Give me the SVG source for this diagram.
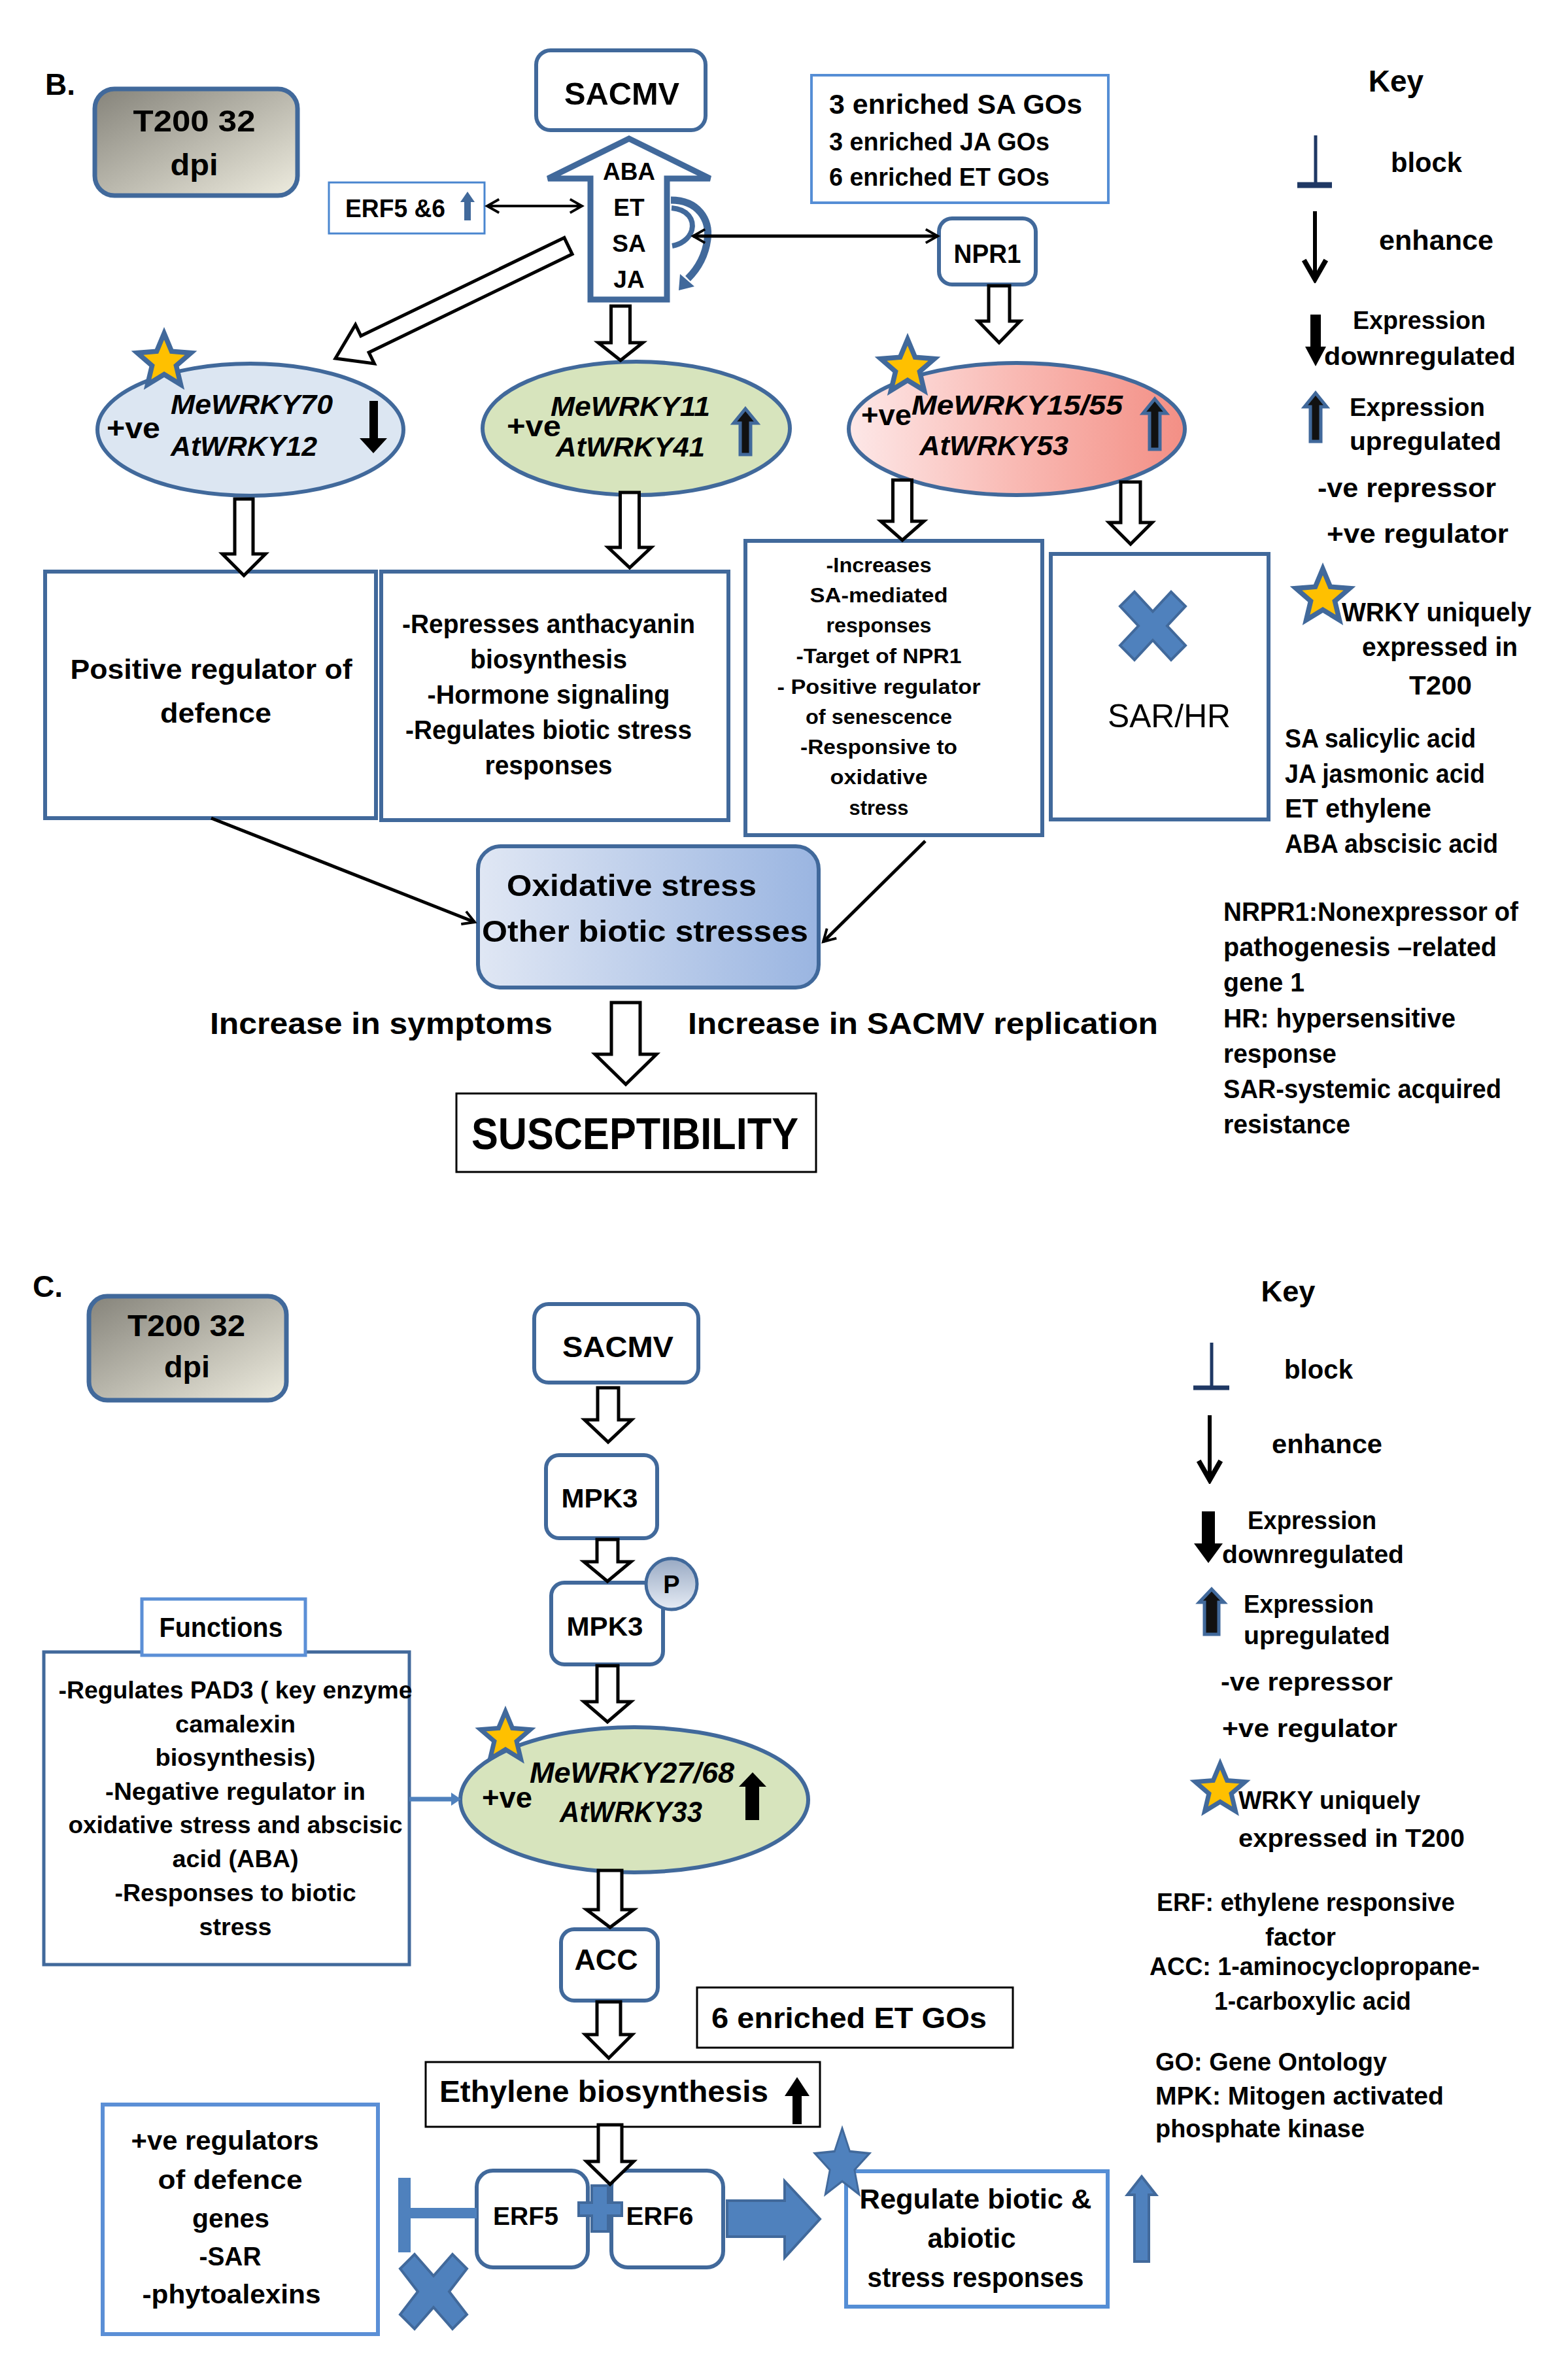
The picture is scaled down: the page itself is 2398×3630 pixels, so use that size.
<svg xmlns="http://www.w3.org/2000/svg" width="2398" height="3630" viewBox="0 0 2398 3630">
<defs>
<style>
.t{font-family:'Liberation Sans',Arial,Helvetica,sans-serif;font-weight:bold;fill:#000}
.r{font-weight:normal}
.i{font-style:italic}
.m{text-anchor:middle}
.n{stroke:#41699b;stroke-width:6;fill:#fff}
.lb{stroke:#5b8fd6;stroke-width:4;fill:#fff}
.bk{stroke:#000;stroke-width:3;fill:#fff}
.ha{fill:#fff;stroke:#000;stroke-width:5;stroke-linejoin:miter}
.ln{stroke:#000;stroke-width:5;fill:none}
.bf{fill:#4f81bd;stroke:#41699b;stroke-width:4}
.up{fill:#111;stroke:#41699b;stroke-width:5}
.bl{fill:#000}
.gs{fill:#ffc000;stroke:#41699b;stroke-width:7;stroke-linejoin:miter}
</style>
<linearGradient id="gGray" x1="0" y1="0" x2="1" y2="1"><stop offset="0" stop-color="#85837a"/><stop offset="1" stop-color="#eeecdf"/></linearGradient>
<linearGradient id="gPink" x1="0" y1="0" x2="1" y2="0"><stop offset="0" stop-color="#fde8e8"/><stop offset="0.5" stop-color="#f9b9b3"/><stop offset="1" stop-color="#f38f85"/></linearGradient>
<linearGradient id="gBlue" x1="0" y1="0" x2="1" y2="0"><stop offset="0" stop-color="#e0e7f4"/><stop offset="1" stop-color="#9ab5e1"/></linearGradient>
<linearGradient id="gP" x1="0" y1="0" x2="0" y2="1"><stop offset="0" stop-color="#98a9c3"/><stop offset="1" stop-color="#e6ecf5"/></linearGradient>
<path id="star" d="M0,-40 L10.6,-14.6 L38,-12.4 L17.1,5.6 L23.5,32.4 L0,18 L-23.5,32.4 L-17.1,5.6 L-38,-12.4 L-10.6,-14.6 Z"/>
<marker id="ch" viewBox="0 0 20 20" refX="17" refY="10" markerWidth="26" markerHeight="26" markerUnits="userSpaceOnUse" orient="auto-start-reverse"><path d="M3,2 L17,10 L3,18" fill="none" stroke="#000" stroke-width="3"/></marker>
<marker id="chL" viewBox="0 0 20 20" refX="17" refY="10" markerWidth="42" markerHeight="42" markerUnits="userSpaceOnUse" orient="auto"><path d="M3,2 L17,10 L3,18" fill="none" stroke="#000" stroke-width="3.6"/></marker>
</defs>
<rect width="2398" height="3630" fill="#fff"/>

<!-- ===== Section B ===== -->
<text class="t" x="69" y="145" font-size="46">B.</text>

<g id="b-t200">
<rect x="145" y="136" width="310" height="163" rx="30" fill="url(#gGray)" stroke="#41699b" stroke-width="7"/>
<text class="t m" x="297" y="201" font-size="46" textLength="187" lengthAdjust="spacingAndGlyphs">T200 32</text>
<text class="t m" x="297" y="268" font-size="46" textLength="73" lengthAdjust="spacingAndGlyphs">dpi</text>
</g>

<g id="b-sacmv">
<rect x="820" y="77" width="259" height="122" rx="22" class="n"/>
<text class="t m" x="951" y="160" font-size="48" textLength="176" lengthAdjust="spacingAndGlyphs">SACMV</text>
</g>

<g id="b-hormones">
<polygon points="962,212 1086,273 1020,273 1020,458 903,458 903,273 838,273" fill="#fff" stroke="#41699b" stroke-width="9" stroke-linejoin="miter"/>
<text class="t m" x="962" y="275" font-size="37">ABA</text>
<text class="t m" x="962" y="330" font-size="37">ET</text>
<text class="t m" x="962" y="385" font-size="37">SA</text>
<text class="t m" x="962" y="440" font-size="37">JA</text>
<path d="M1026,306 C1068,306 1086,336 1082,366 C1078,396 1064,414 1052,426" fill="none" stroke="#41699b" stroke-width="11"/>
<polygon points="1038,444 1040,419 1062,438" fill="#41699b"/>
<path d="M1027,318 C1052,320 1062,336 1058,352 C1054,366 1040,374 1028,376" fill="none" stroke="#41699b" stroke-width="8"/>
</g>

<g id="b-erf56">
<rect x="503" y="279" width="238" height="78" fill="#fff" stroke="#4a86cf" stroke-width="3"/>
<text class="t" x="528" y="332" font-size="38" textLength="153" lengthAdjust="spacingAndGlyphs">ERF5 &amp;6</text>
<polygon points="715,293 726,309 720,309 720,337 710,337 710,309 704,309" fill="#41699b"/>
</g>

<g id="b-goes">
<rect x="1241" y="115" width="454" height="195" fill="#fff" stroke="#558ed5" stroke-width="4"/>
<text class="t" x="1268" y="174" font-size="42" textLength="387" lengthAdjust="spacingAndGlyphs">3 enriched SA GOs</text>
<text class="t" x="1268" y="230" font-size="39" textLength="337" lengthAdjust="spacingAndGlyphs">3 enriched JA GOs</text>
<text class="t" x="1268" y="284" font-size="39" textLength="337" lengthAdjust="spacingAndGlyphs">6 enriched ET GOs</text>
</g>

<g id="b-npr1">
<rect x="1436" y="334" width="148" height="101" rx="20" class="n"/>
<text class="t m" x="1510" y="402" font-size="40" textLength="103" lengthAdjust="spacingAndGlyphs">NPR1</text>
</g>

<g id="b-wrky70">
<ellipse cx="383" cy="657" rx="234" ry="101" fill="#dce6f2" stroke="#41699b" stroke-width="6"/>
<text class="t" x="163" y="670" font-size="44" textLength="82" lengthAdjust="spacingAndGlyphs">+ve</text>
<text class="t i" x="261" y="633" font-size="43" textLength="248" lengthAdjust="spacingAndGlyphs">MeWRKY70</text>
<text class="t i" x="261" y="697" font-size="43" textLength="224" lengthAdjust="spacingAndGlyphs">AtWRKY12</text>
<polygon points="565,613 578,613 578,670 592,670 571,693 550,670 565,670" class="bl"/>
<use href="#star" transform="translate(251,553) scale(1.08)" class="gs"/>
</g>

<g id="b-wrky11">
<ellipse cx="973" cy="655" rx="235" ry="102" fill="#d7e4bd" stroke="#41699b" stroke-width="6"/>
<text class="t" x="775" y="667" font-size="44" textLength="83" lengthAdjust="spacingAndGlyphs">+ve</text>
<text class="t i" x="842" y="636" font-size="43" textLength="244" lengthAdjust="spacingAndGlyphs">MeWRKY11</text>
<text class="t i" x="850" y="698" font-size="43" textLength="228" lengthAdjust="spacingAndGlyphs">AtWRKY41</text>
<polygon points="1140,625 1158,647 1148,647 1148,695 1132,695 1132,647 1122,647" class="up"/>
</g>

<g id="b-wrky15">
<ellipse cx="1555" cy="656" rx="257" ry="101" fill="url(#gPink)" stroke="#41699b" stroke-width="6"/>
<text class="t" x="1317" y="650" font-size="44" textLength="77" lengthAdjust="spacingAndGlyphs">+ve</text>
<text class="t i" x="1394" y="634" font-size="43" textLength="323" lengthAdjust="spacingAndGlyphs">MeWRKY15/55</text>
<text class="t i" x="1406" y="696" font-size="43" textLength="228" lengthAdjust="spacingAndGlyphs">AtWRKY53</text>
<polygon points="1766,610 1784,632 1774,632 1774,687 1758,687 1758,632 1748,632" class="up"/>
<use href="#star" transform="translate(1388,562) scale(1.08)" class="gs"/>
</g>

<g id="b-box1">
<rect x="69" y="874" width="506" height="377" class="n"/>
<text class="t m" x="323" y="1038" font-size="42" textLength="431" lengthAdjust="spacingAndGlyphs">Positive regulator of</text>
<text class="t m" x="330" y="1105" font-size="42" textLength="170" lengthAdjust="spacingAndGlyphs">defence</text>
</g>

<g id="b-box2">
<rect x="583" y="874" width="531" height="380" class="n"/>
<text class="t m" x="839" y="968" font-size="40" textLength="448" lengthAdjust="spacingAndGlyphs">-Represses anthacyanin</text>
<text class="t m" x="839" y="1022" font-size="40" textLength="240" lengthAdjust="spacingAndGlyphs">biosynthesis</text>
<text class="t m" x="839" y="1076" font-size="40" textLength="371" lengthAdjust="spacingAndGlyphs">-Hormone signaling</text>
<text class="t m" x="839" y="1130" font-size="40" textLength="438" lengthAdjust="spacingAndGlyphs">-Regulates biotic stress</text>
<text class="t m" x="839" y="1184" font-size="40" textLength="195" lengthAdjust="spacingAndGlyphs">responses</text>
</g>

<g id="b-box3">
<rect x="1140" y="827" width="454" height="450" class="n"/>
<text class="t m" x="1344" y="875" font-size="31" textLength="161" lengthAdjust="spacingAndGlyphs">-Increases</text>
<text class="t m" x="1344" y="921" font-size="31" textLength="211" lengthAdjust="spacingAndGlyphs">SA-mediated</text>
<text class="t m" x="1344" y="967" font-size="31" textLength="161" lengthAdjust="spacingAndGlyphs">responses</text>
<text class="t m" x="1344" y="1014" font-size="31" textLength="253" lengthAdjust="spacingAndGlyphs">-Target of NPR1</text>
<text class="t m" x="1344" y="1061" font-size="31" textLength="311" lengthAdjust="spacingAndGlyphs">- Positive regulator</text>
<text class="t m" x="1344" y="1107" font-size="31" textLength="224" lengthAdjust="spacingAndGlyphs">of senescence</text>
<text class="t m" x="1344" y="1153" font-size="31" textLength="240" lengthAdjust="spacingAndGlyphs">-Responsive to</text>
<text class="t m" x="1344" y="1199" font-size="31" textLength="149" lengthAdjust="spacingAndGlyphs">oxidative</text>
<text class="t m" x="1344" y="1246" font-size="31" textLength="91" lengthAdjust="spacingAndGlyphs">stress</text>
</g>

<g id="b-sarhr">
<rect x="1607" y="847" width="333" height="406" class="n"/>
<polygon points="1713,927 1735,905 1763,935 1791,905 1813,927 1785,957 1813,987 1791,1009 1763,979 1735,1009 1713,987 1741,957" class="bf"/>
<text class="t r m" x="1788" y="1112" font-size="50" textLength="188" lengthAdjust="spacingAndGlyphs">SAR/HR</text>
</g>

<g id="b-oxid">
<rect x="731" y="1294" width="521" height="216" rx="35" fill="url(#gBlue)" stroke="#41699b" stroke-width="6"/>
<text class="t" x="775" y="1370" font-size="47" textLength="382" lengthAdjust="spacingAndGlyphs">Oxidative stress</text>
<text class="t" x="737" y="1440" font-size="47" textLength="499" lengthAdjust="spacingAndGlyphs">Other biotic stresses</text>
</g>

<g id="b-labels">
<text class="t" x="321" y="1581" font-size="46" textLength="524" lengthAdjust="spacingAndGlyphs">Increase in symptoms</text>
<text class="t" x="1052" y="1581" font-size="46" textLength="719" lengthAdjust="spacingAndGlyphs">Increase in SACMV replication</text>
</g>

<g id="b-susc">
<rect x="698" y="1672" width="550" height="120" class="bk"/>
<text class="t m" x="971" y="1757" font-size="68" font-weight="900" textLength="500" lengthAdjust="spacingAndGlyphs">SUSCEPTIBILITY</text>
</g>

<g id="b-key">
<text class="t m" x="2135" y="140" font-size="46">Key</text>
<line x1="2012" y1="207" x2="2012" y2="283" stroke="#1f3864" stroke-width="5"/>
<line x1="1984" y1="283" x2="2037" y2="283" stroke="#1f3864" stroke-width="9"/>
<text class="t" x="2127" y="263" font-size="42" textLength="109" lengthAdjust="spacingAndGlyphs">block</text>
<line x1="2011" y1="323" x2="2011" y2="427" stroke="#000" stroke-width="6" marker-end="url(#chL)"/>
<text class="t" x="2109" y="382" font-size="42" textLength="175" lengthAdjust="spacingAndGlyphs">enhance</text>
<polygon points="2004,481 2020,481 2020,530 2028,530 2012,560 1996,530 2004,530" class="bl"/>
<text class="t" x="2069" y="503" font-size="38" textLength="203" lengthAdjust="spacingAndGlyphs">Expression</text>
<text class="t" x="2025" y="558" font-size="38" textLength="293" lengthAdjust="spacingAndGlyphs">downregulated</text>
<polygon points="2012,601 2029,622 2020,622 2020,675 2004,675 2004,622 1995,622" class="up"/>
<text class="t" x="2064" y="636" font-size="38" textLength="207" lengthAdjust="spacingAndGlyphs">Expression</text>
<text class="t" x="2064" y="688" font-size="38" textLength="232" lengthAdjust="spacingAndGlyphs">upregulated</text>
<text class="t" x="2015" y="760" font-size="40" textLength="273" lengthAdjust="spacingAndGlyphs">-ve repressor</text>
<text class="t" x="2029" y="830" font-size="40" textLength="278" lengthAdjust="spacingAndGlyphs">+ve regulator</text>
<use href="#star" transform="translate(2023,913) scale(1.08)" class="gs"/>
<text class="t" x="2052" y="950" font-size="40" textLength="290" lengthAdjust="spacingAndGlyphs">WRKY uniquely</text>
<text class="t" x="2083" y="1003" font-size="40" textLength="238" lengthAdjust="spacingAndGlyphs">expressed in</text>
<text class="t" x="2155" y="1062" font-size="40" textLength="96" lengthAdjust="spacingAndGlyphs">T200</text>
</g>

<g id="b-abbrev">
<text class="t" x="1965" y="1143" font-size="40" textLength="292" lengthAdjust="spacingAndGlyphs">SA salicylic acid</text>
<text class="t" x="1965" y="1197" font-size="40" textLength="306" lengthAdjust="spacingAndGlyphs">JA jasmonic acid</text>
<text class="t" x="1965" y="1250" font-size="40" textLength="224" lengthAdjust="spacingAndGlyphs">ET ethylene</text>
<text class="t" x="1965" y="1304" font-size="40" textLength="326" lengthAdjust="spacingAndGlyphs">ABA abscisic acid</text>
<text class="t" x="1871" y="1408" font-size="40" textLength="451" lengthAdjust="spacingAndGlyphs">NRPR1:Nonexpressor of</text>
<text class="t" x="1871" y="1462" font-size="40" textLength="418" lengthAdjust="spacingAndGlyphs">pathogenesis –related</text>
<text class="t" x="1871" y="1516" font-size="40" textLength="124" lengthAdjust="spacingAndGlyphs">gene 1</text>
<text class="t" x="1871" y="1571" font-size="40" textLength="355" lengthAdjust="spacingAndGlyphs">HR: hypersensitive</text>
<text class="t" x="1871" y="1625" font-size="40" textLength="173" lengthAdjust="spacingAndGlyphs">response</text>
<text class="t" x="1871" y="1679" font-size="40" textLength="425" lengthAdjust="spacingAndGlyphs">SAR-systemic acquired</text>
<text class="t" x="1871" y="1733" font-size="40" textLength="194" lengthAdjust="spacingAndGlyphs">resistance</text>
</g>

<!-- ===== Section C ===== -->
<text class="t" x="50" y="1983" font-size="46">C.</text>

<g id="c-t200">
<rect x="136" y="1982" width="302" height="159" rx="28" fill="url(#gGray)" stroke="#41699b" stroke-width="7"/>
<text class="t m" x="285" y="2043" font-size="46" textLength="180" lengthAdjust="spacingAndGlyphs">T200 32</text>
<text class="t m" x="286" y="2106" font-size="46" textLength="70" lengthAdjust="spacingAndGlyphs">dpi</text>
</g>

<g id="c-sacmv">
<rect x="817" y="1994" width="251" height="120" rx="22" class="n"/>
<text class="t m" x="945" y="2075" font-size="44" textLength="170" lengthAdjust="spacingAndGlyphs">SACMV</text>
</g>

<g id="c-mpk3a">
<rect x="835" y="2225" width="170" height="127" rx="20" class="n"/>
<text class="t m" x="917" y="2305" font-size="40" textLength="117" lengthAdjust="spacingAndGlyphs">MPK3</text>
</g>

<g id="c-mpk3b">
<rect x="843" y="2420" width="171" height="125" rx="20" class="n"/>
<text class="t m" x="925" y="2501" font-size="40" textLength="117" lengthAdjust="spacingAndGlyphs">MPK3</text>
<circle cx="1027" cy="2422" r="39" fill="url(#gP)" stroke="#41699b" stroke-width="5"/>
<text class="t m" x="1027" y="2436" font-size="38">P</text>
</g>

<g id="c-wrky27">
<ellipse cx="970" cy="2752" rx="266" ry="111" fill="#d7e4bd" stroke="#41699b" stroke-width="6"/>
<text class="t" x="737" y="2764" font-size="44" textLength="77" lengthAdjust="spacingAndGlyphs">+ve</text>
<text class="t i" x="810" y="2726" font-size="45" textLength="313" lengthAdjust="spacingAndGlyphs">MeWRKY27/68</text>
<text class="t i" x="856" y="2786" font-size="45" textLength="218" lengthAdjust="spacingAndGlyphs">AtWRKY33</text>
<polygon points="1151,2710 1172,2732 1161,2732 1161,2783 1140,2783 1140,2732 1130,2732" class="bl"/>
<use href="#star" transform="translate(773,2657)" class="gs"/>
</g>

<g id="c-functions">
<rect x="67" y="2526" width="559" height="478" fill="#fff" stroke="#41699b" stroke-width="5"/>
<rect x="217" y="2445" width="250" height="86" fill="#fff" stroke="#5b8fd6" stroke-width="5"/>
<text class="t m" x="338" y="2503" font-size="42" textLength="189" lengthAdjust="spacingAndGlyphs">Functions</text>
<text class="t m" x="360" y="2597" font-size="36" textLength="541" lengthAdjust="spacingAndGlyphs">-Regulates PAD3 ( key enzyme</text>
<text class="t m" x="360" y="2649" font-size="36" textLength="184" lengthAdjust="spacingAndGlyphs">camalexin</text>
<text class="t m" x="360" y="2700" font-size="36" textLength="245" lengthAdjust="spacingAndGlyphs">biosynthesis)</text>
<text class="t m" x="360" y="2752" font-size="36" textLength="398" lengthAdjust="spacingAndGlyphs">-Negative regulator in</text>
<text class="t m" x="360" y="2803" font-size="36" textLength="511" lengthAdjust="spacingAndGlyphs">oxidative stress and abscisic</text>
<text class="t m" x="360" y="2855" font-size="36" textLength="193" lengthAdjust="spacingAndGlyphs">acid (ABA)</text>
<text class="t m" x="360" y="2907" font-size="36" textLength="369" lengthAdjust="spacingAndGlyphs">-Responses to biotic</text>
<text class="t m" x="360" y="2959" font-size="36" textLength="111" lengthAdjust="spacingAndGlyphs">stress</text>
</g>

<g id="c-acc">
<rect x="858" y="2950" width="148" height="109" rx="20" class="n"/>
<text class="t m" x="927" y="3012" font-size="45" textLength="97" lengthAdjust="spacingAndGlyphs">ACC</text>
</g>

<g id="c-etgo">
<rect x="1066" y="3039" width="483" height="92" class="bk"/>
<text class="t" x="1088" y="3101" font-size="45" textLength="421" lengthAdjust="spacingAndGlyphs">6 enriched ET GOs</text>
</g>

<g id="c-ethylene">
<rect x="651" y="3153" width="603" height="99" class="bk"/>
<text class="t" x="672" y="3214" font-size="46" textLength="503" lengthAdjust="spacingAndGlyphs">Ethylene biosynthesis</text>
<polygon points="1219,3176 1238,3205 1226,3205 1226,3248 1212,3248 1212,3205 1200,3205" class="bl"/>
</g>

<g id="c-erf5">
<rect x="729" y="3319" width="170" height="148" rx="25" class="n"/>
<text class="t m" x="804" y="3402" font-size="38" textLength="100" lengthAdjust="spacingAndGlyphs">ERF5</text>
</g>

<g id="c-erf6">
<rect x="935" y="3319" width="171" height="148" rx="25" class="n"/>
<text class="t m" x="1009" y="3402" font-size="38" textLength="103" lengthAdjust="spacingAndGlyphs">ERF6</text>
</g>

<g id="c-plus">
<path d="M905,3342 H930 V3368 H951 V3388 H930 V3412 H905 V3388 H885 V3368 H905 Z" class="bf"/>
</g>

<g id="c-regulate">
<rect x="1294" y="3320" width="400" height="207" fill="#fff" stroke="#558ed5" stroke-width="6"/>
<text class="t m" x="1492" y="3377" font-size="42" textLength="355" lengthAdjust="spacingAndGlyphs">Regulate biotic &amp;</text>
<text class="t m" x="1486" y="3437" font-size="42" textLength="135" lengthAdjust="spacingAndGlyphs">abiotic</text>
<text class="t m" x="1492" y="3497" font-size="42" textLength="331" lengthAdjust="spacingAndGlyphs">stress responses</text>
<use href="#star" transform="translate(1288,3310) scale(1.1,1.4)" fill="#4f81bd" stroke="#41699b" stroke-width="2.5"/>
<path d="M1746,3328 L1768,3356 H1757 V3458 H1735 V3356 H1724 Z" class="bf"/>
</g>

<g id="c-posreg">
<rect x="157" y="3218" width="421" height="351" fill="#fff" stroke="#5b8fd6" stroke-width="6"/>
<text class="t m" x="344" y="3287" font-size="40" textLength="287" lengthAdjust="spacingAndGlyphs">+ve regulators</text>
<text class="t m" x="352" y="3347" font-size="40" textLength="221" lengthAdjust="spacingAndGlyphs">of defence</text>
<text class="t m" x="353" y="3406" font-size="40" textLength="118" lengthAdjust="spacingAndGlyphs">genes</text>
<text class="t m" x="352" y="3464" font-size="40" textLength="95" lengthAdjust="spacingAndGlyphs">-SAR</text>
<text class="t m" x="354" y="3522" font-size="40" textLength="273" lengthAdjust="spacingAndGlyphs">-phytoalexins</text>
</g>

<g id="c-key">
<text class="t m" x="1970" y="1990" font-size="44" textLength="83" lengthAdjust="spacingAndGlyphs">Key</text>
<line x1="1853" y1="2053" x2="1853" y2="2122" stroke="#1f3864" stroke-width="5"/>
<line x1="1825" y1="2122" x2="1880" y2="2122" stroke="#1f3864" stroke-width="7"/>
<text class="t" x="1964" y="2108" font-size="40" textLength="105" lengthAdjust="spacingAndGlyphs">block</text>
<line x1="1850" y1="2164" x2="1850" y2="2263" stroke="#000" stroke-width="6" marker-end="url(#chL)"/>
<text class="t" x="1945" y="2222" font-size="40" textLength="169" lengthAdjust="spacingAndGlyphs">enhance</text>
<polygon points="1838,2311 1858,2311 1858,2360 1870,2360 1848,2390 1826,2360 1838,2360" class="bl"/>
<text class="t" x="1908" y="2338" font-size="38" textLength="197" lengthAdjust="spacingAndGlyphs">Expression</text>
<text class="t" x="1869" y="2390" font-size="38" textLength="278" lengthAdjust="spacingAndGlyphs">downregulated</text>
<polygon points="1853,2430 1872,2450 1864,2450 1864,2499 1842,2499 1842,2450 1834,2450" class="up"/>
<text class="t" x="1902" y="2466" font-size="38" textLength="199" lengthAdjust="spacingAndGlyphs">Expression</text>
<text class="t" x="1902" y="2514" font-size="38" textLength="224" lengthAdjust="spacingAndGlyphs">upregulated</text>
<text class="t" x="1867" y="2585" font-size="38" textLength="263" lengthAdjust="spacingAndGlyphs">-ve repressor</text>
<text class="t" x="1869" y="2656" font-size="38" textLength="268" lengthAdjust="spacingAndGlyphs">+ve regulator</text>
<use href="#star" transform="translate(1866,2737)" class="gs"/>
<text class="t" x="1894" y="2766" font-size="38" textLength="278" lengthAdjust="spacingAndGlyphs">WRKY uniquely</text>
<text class="t" x="1894" y="2824" font-size="38" textLength="346" lengthAdjust="spacingAndGlyphs">expressed in T200</text>
<text class="t" x="1769" y="2922" font-size="38" textLength="456" lengthAdjust="spacingAndGlyphs">ERF: ethylene responsive</text>
<text class="t" x="1935" y="2975" font-size="38" textLength="108" lengthAdjust="spacingAndGlyphs">factor</text>
<text class="t" x="1758" y="3020" font-size="38" textLength="505" lengthAdjust="spacingAndGlyphs">ACC: 1-aminocyclopropane-</text>
<text class="t" x="1857" y="3073" font-size="38" textLength="301" lengthAdjust="spacingAndGlyphs">1-carboxylic acid</text>
<text class="t" x="1767" y="3166" font-size="38" textLength="354" lengthAdjust="spacingAndGlyphs">GO: Gene Ontology</text>
<text class="t" x="1767" y="3218" font-size="38" textLength="441" lengthAdjust="spacingAndGlyphs">MPK: Mitogen activated</text>
<text class="t" x="1767" y="3268" font-size="38" textLength="320" lengthAdjust="spacingAndGlyphs">phosphate kinase</text>
</g>

<!-- ===== Connectors ===== -->
<g id="connectors">
<line x1="745" y1="315" x2="890" y2="315" stroke="#000" stroke-width="4" marker-start="url(#ch)" marker-end="url(#ch)"/>
<line x1="1060" y1="361" x2="1434" y2="361" class="ln" marker-start="url(#ch)" marker-end="url(#ch)"/>
<path d="M862.9,363.4 L551.9,513.6 L543.6,496.5 L513,548 L572.4,556 L564.1,538.9 L875.1,388.6 Z" class="ha"/>
<path d="M934.5,468 H963.5 V524 H983 L949,551 L915,524 H934.5 Z" class="ha"/>
<path d="M1512,437 H1544 V491 H1560 L1528,524 L1496,491 H1512 Z" class="ha"/>
<path d="M359,763 H387 V847 H406 L373,880 L340,847 H359 Z" class="ha"/>
<path d="M948.5,753 H977.5 V837 H996 L963,868 L930,837 H948.5 Z" class="ha"/>
<path d="M1365.5,734 H1394.5 V797 H1413 L1380,826 L1347,797 H1365.5 Z" class="ha"/>
<path d="M1714,737 H1744 V799 H1762 L1729,832 L1696,799 H1714 Z" class="ha"/>
<line x1="323" y1="1251" x2="726" y2="1410" class="ln" marker-end="url(#ch)"/>
<line x1="1415" y1="1286" x2="1259" y2="1440" class="ln" marker-end="url(#ch)"/>
<path d="M935,1533 H979 V1612 H1004 L957,1658 L910,1612 H935 Z" class="ha"/>

<path d="M914,2122 H946 V2171 H966 L930,2205 L894,2171 H914 Z" class="ha"/>
<path d="M913,2354 H945 V2388 H965 L929,2418 L893,2388 H913 Z" class="ha"/>
<path d="M913,2547 H945 V2602 H965 L929,2633 L893,2602 H913 Z" class="ha"/>
<line x1="626" y1="2751" x2="692" y2="2751" stroke="#4f81bd" stroke-width="7"/>
<polygon points="690,2741 705,2751 690,2761" fill="#4f81bd"/>
<path d="M915,2860 H951 V2920 H969 L933,2947 L897,2920 H915 Z" class="ha"/>
<path d="M913,3061 H949 V3111 H967 L931,3147 L895,3111 H913 Z" class="ha"/>
<path d="M915,3249 H951 V3305 H969 L933,3340 L897,3305 H915 Z" class="ha"/>
<rect x="609" y="3330" width="19" height="114" fill="#4f81bd"/>
<rect x="626" y="3376" width="103" height="16" fill="#4f81bd"/>
<polygon points="612,3469 634,3447 663,3480 692,3447 714,3469 687,3504 714,3539 692,3561 663,3528 634,3561 612,3539 639,3504" class="bf"/>
<path d="M1112,3365 H1200 V3335 L1254,3393 L1200,3452 V3420 H1112 Z" class="bf"/>
</g>
</svg>
